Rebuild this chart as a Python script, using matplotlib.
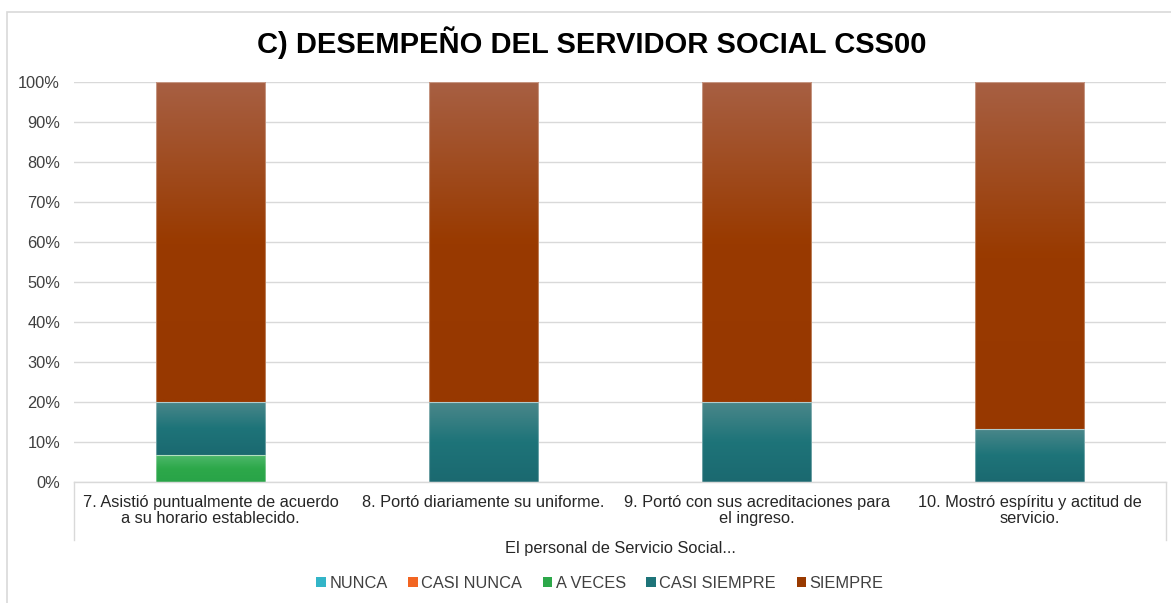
import numpy as np
import matplotlib
matplotlib.use("Agg")
import matplotlib.pyplot as plt
from matplotlib.patches import Patch, Rectangle
from matplotlib.lines import Line2D
from matplotlib.colors import to_rgb

plt.rcParams['font.family'] = ['Liberation Sans', 'DejaVu Sans']

title = "C) DESEMPEÑO DEL SERVIDOR SOCIAL CSS00"
categories = [
    "7. Asistió puntualmente de acuerdo\na su horario establecido.",
    "8. Portó diariamente su uniforme.",
    "9. Portó con sus acreditaciones para\nel ingreso.",
    "10. Mostró espíritu y actitud de\nservicio.",
]
group_label = "El personal de Servicio Social..."
series_names = ["NUNCA", "CASI NUNCA", "A VECES", "CASI SIEMPRE", "SIEMPRE"]
nunca = [0.0, 0.0, 0.0, 0.0]
casi_nunca = [0.0, 0.0, 0.0, 0.0]
a_veces = [6.67, 0.0, 0.0, 0.0]
casi_siempre = [13.33, 20.0, 20.0, 13.33]
siempre = [80.0, 80.0, 80.0, 86.67]
yticks = [0, 10, 20, 30, 40, 50, 60, 70, 80, 90, 100]

base_colors = ["#33B5C8", "#F26522", "#2DA84A", "#1E7479", "#993A00"]
top_colors = ["#5CC6D6", "#F58A55", "#4DB86B", "#4B878A", "#A75F42"]
bot_colors = ["#2AA5B8", "#E05A1A", "#29A448", "#1B6970", "#973800"]

W, H = 1171, 603
fig = plt.figure(figsize=(W / 100, H / 100), dpi=100)
fig.patch.set_facecolor("white")

L, R = 74, 1166
B, T = 482, 82
ax = fig.add_axes([L / W, 1 - B / H, (R - L) / W, (B - T) / H])

x = np.arange(len(categories))
series = [nunca, casi_nunca, a_veces, casi_siempre, siempre]
bottom = np.zeros(len(categories))
bar_w = 0.4
for name, vals, c0, c1, c2 in zip(series_names, series, top_colors, base_colors, bot_colors):
    vals = np.array(vals, dtype=float)
    bars = ax.bar(x, vals, bar_w, bottom=bottom, facecolor="none",
                  edgecolor=(1, 1, 1, 0.35), linewidth=0.8, zorder=3)
    for p in bars:
        if p.get_height() <= 0:
            continue
        x0, y0 = p.get_x(), p.get_y()
        w, h = p.get_width(), p.get_height()
        n = 64
        t = np.linspace(0, 1, n)[:, None]
        a0, a1, a2 = np.array(to_rgb(c0)), np.array(to_rgb(c1)), np.array(to_rgb(c2))
        grad = np.where(t < 0.5, a0 + (a1 - a0) * (t / 0.5), a1 + (a2 - a1) * ((t - 0.5) / 0.5))
        img = ax.imshow(grad[:, None, :], extent=[x0, x0 + w, y0, y0 + h],
                        aspect="auto", origin="upper", zorder=2.5, interpolation="bilinear")
        img.set_clip_path(p)
    bottom += vals

ax.set_xlim(-0.5, len(categories) - 0.5)
ax.set_ylim(0, 100)
ax.set_yticks(yticks)
ax.set_yticklabels([f"{v}%" for v in yticks], fontsize=11.8, color="#404040")
ax.yaxis.grid(True, color="#D9D9D9", linewidth=1.0, zorder=0)
ax.set_axisbelow(True)
ax.tick_params(axis="y", length=0, pad=10)
ax.tick_params(axis="x", length=0)
ax.set_xticks(x)
ax.set_xticklabels([])
for s in ["top", "right", "left"]:
    ax.spines[s].set_visible(False)
ax.spines["bottom"].set_color("#D9D9D9")
ax.spines["bottom"].set_linewidth(1.0)

for xi, lab in zip(x, categories):
    ax.text(xi, -3.3, lab, ha="center", va="top", fontsize=11.8, color="#262626",
            linespacing=1.06)

# category box lines
ydrop = -(540 - B) / (B - T) * 100
for xe in [-0.5, len(categories) - 0.5]:
    ax.add_line(Line2D([xe, xe], [0, ydrop], color="#D9D9D9", linewidth=1.0, clip_on=False))
ax.text((len(categories) - 1) / 2, -16.5, group_label, ha="center", va="center",
        fontsize=11.8, color="#262626")

fig.text(592 / W, 1 - 43 / H, title, ha="center", va="center", fontsize=21,
         fontweight="bold", color="black")

handles = [Patch(facecolor=c, edgecolor="none") for c in base_colors]
leg = fig.legend(handles, series_names, loc="center", bbox_to_anchor=(600 / W, 1 - 583 / H),
                 ncol=5, frameon=False, fontsize=11.8, handlelength=0.6, handleheight=0.6,
                 handletextpad=0.2, columnspacing=1.25)
for t in leg.get_texts():
    t.set_color("#404040")

fig.add_artist(Rectangle((7 / W, -0.1), 1.2, 1 - 12 / H + 0.1, transform=fig.transFigure,
                         facecolor="none", edgecolor="#D9D9D9", linewidth=1.2))

fig.savefig("out.png", dpi=100, facecolor="white")
